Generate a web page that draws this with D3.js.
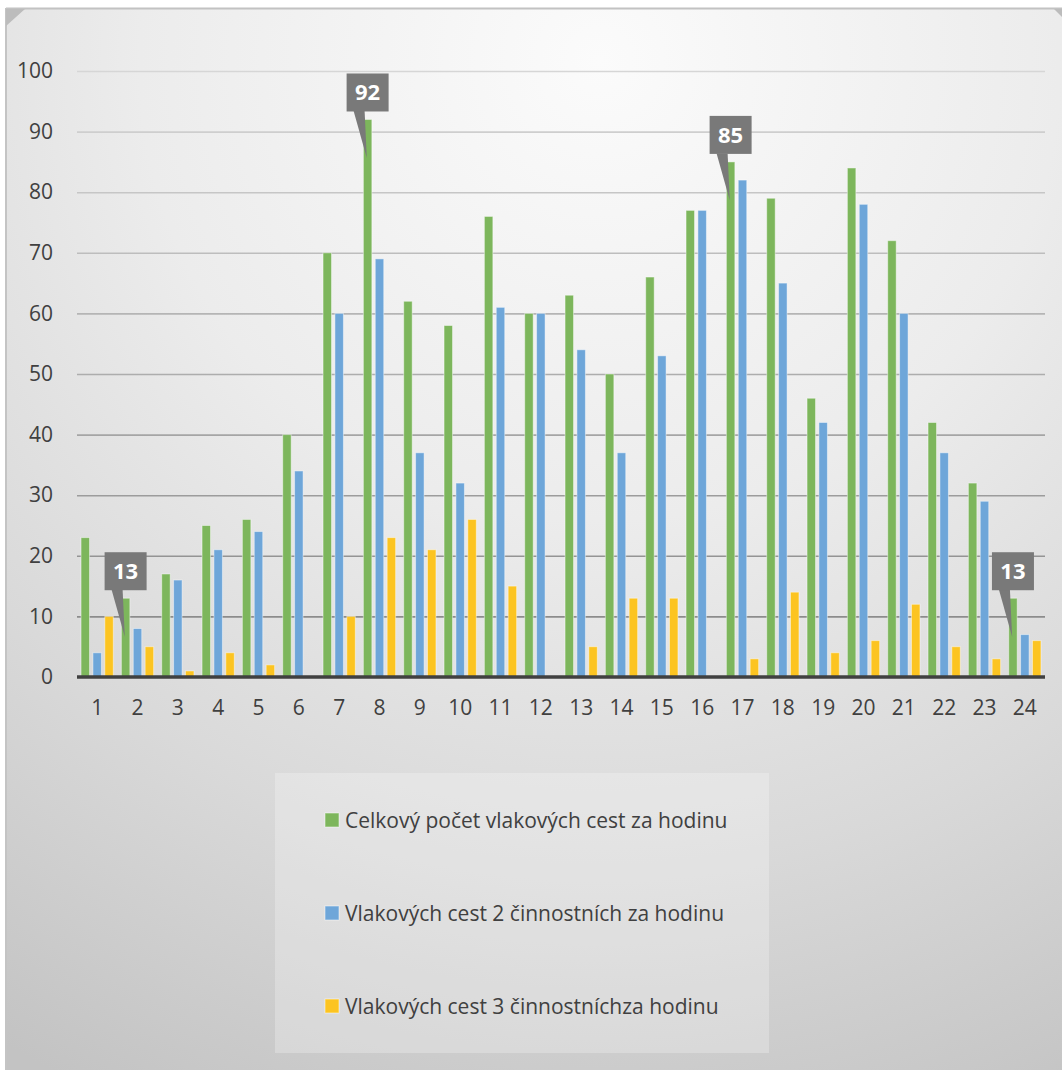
<!DOCTYPE html>
<html>
<head>
<meta charset="utf-8">
<script src="https://cdn.jsdelivr.net/npm/d3@7"></script>
<style>
  html, body { margin: 0; padding: 0; background: #ffffff; }
  svg { display: block; }
  text { font-family: "Open Sans", "Noto Sans", sans-serif; }
</style>
</head>
<body>
<svg id="chart" width="1062" height="1070"></svg>
<script>
// Hours of the day (category axis)
const hours = ["1","2","3","4","5","6","7","8","9","10","11","12",
               "13","14","15","16","17","18","19","20","21","22","23","24"];

// Train routes per hour
const totalRoutes = [23, 13, 17, 25, 26, 40, 70, 92, 62, 58, 76, 60,
                     63, 50, 66, 77, 85, 79, 46, 84, 72, 42, 32, 13];
const twoActivityRoutes = [4, 8, 16, 21, 24, 34, 60, 69, 37, 32, 61, 60,
                           54, 37, 53, 77, 82, 65, 42, 78, 60, 37, 29, 7];
const threeActivityRoutes = [10, 5, 1, 4, 2, 0, 10, 23, 21, 26, 15, 0,
                             5, 13, 13, 0, 3, 14, 4, 6, 12, 5, 3, 6];

const seriesNames = [
  "Celkový počet vlakových cest za hodinu",
  "Vlakových cest 2 činnostních za hodinu",
  "Vlakových cest 3 činnostníchza hodinu"
];
const seriesColors = ["#7db65c", "#6ea6d9", "#fcc421"];

// Hours whose total gets a callout
const calloutHours = ["2", "8", "17", "24"];

const yTicks = [0, 10, 20, 30, 40, 50, 60, 70, 80, 90, 100];

const seriesValues = [totalRoutes, twoActivityRoutes, threeActivityRoutes];

const svg = d3.select("#chart");
const defs = svg.append("defs");

// Chart area background
const bg = defs.append("radialGradient")
  .attr("id", "bgGrad")
  .attr("gradientUnits", "userSpaceOnUse")
  .attr("cx", 600).attr("cy", 60).attr("r", 1150);
[[0, "#fbfbfb"], [0.4, "#ececec"], [0.7, "#d9d9d9"], [1, "#c3c3c3"]]
  .forEach(([o, c]) => bg.append("stop").attr("offset", o).attr("stop-color", c));

svg.append("rect")
  .attr("x", 6).attr("y", 9).attr("width", 1062).attr("height", 1070)
  .attr("fill", "url(#bgGrad)");
svg.append("line").attr("x1", 6).attr("x2", 1062).attr("y1", 8.5).attr("y2", 8.5)
  .attr("stroke", "#c2c2c2").attr("stroke-width", 2);
svg.append("line").attr("x1", 6).attr("x2", 6).attr("y1", 8).attr("y2", 1070)
  .attr("stroke", "#c4c4c4").attr("stroke-width", 2);
svg.append("path").attr("d", "M6,9 L25,9 L6,26 Z").attr("fill", "#bcbcbc");
svg.append("path").attr("d", "M1054,9 L1062,9 L1062,17 Z").attr("fill", "#bcbcbc");

// Scales
const plotLeft = 77, plotRight = 1045, plotBottom = 677, plotTop = 71;
const x0 = d3.scaleBand().domain(hours).range([plotLeft, plotRight])
  .paddingInner(0.2).paddingOuter(0.1);
const x1 = d3.scaleBand().domain(d3.range(seriesValues.length))
  .range([0, x0.bandwidth()]).paddingInner(0.286);
const y = d3.scaleLinear().domain([0, 100]).range([plotBottom, plotTop]);

// Gridlines, darker toward the baseline
const gridColor = d3.scaleLinear().domain([10, 100]).range(["#8c8c8c", "#d6d6d6"]);
const yAxis = svg.append("g")
  .attr("transform", `translate(${plotLeft},0)`)
  .call(d3.axisLeft(y).tickValues(yTicks).tickSize(-(plotRight - plotLeft)).tickPadding(24));
yAxis.select(".domain").remove();
yAxis.selectAll(".tick line")
  .attr("stroke", d => d === 0 ? "none" : gridColor(d))
  .attr("stroke-width", 1.6);
yAxis.selectAll(".tick text")
  .attr("fill", "#404040")
  .style("font-size", "21px");

// Bars
const groups = svg.append("g").selectAll("g")
  .data(hours)
  .join("g")
  .attr("transform", d => `translate(${x0(d)},0)`);

groups.selectAll("rect")
  .data((h, i) => seriesValues.map((vals, s) => ({ s, v: vals[i] })))
  .join("rect")
  .filter(d => d.v > 0)
  .attr("x", d => x1(d.s))
  .attr("width", x1.bandwidth())
  .attr("y", d => y(d.v))
  .attr("height", d => y(0) - y(d.v))
  .attr("fill", d => seriesColors[d.s])
  .attr("stroke", "rgba(255,255,255,0.45)")
  .attr("stroke-width", 1);

// Category axis
const xAxis = svg.append("g")
  .attr("transform", `translate(0,${plotBottom})`)
  .call(d3.axisBottom(x0).tickSize(0).tickPadding(23));
xAxis.select(".domain").remove();
xAxis.selectAll(".tick text")
  .attr("fill", "#404040")
  .style("font-size", "21px");

svg.append("line")
  .attr("x1", plotLeft).attr("x2", plotRight)
  .attr("y1", y(0)).attr("y2", y(0))
  .attr("stroke", "#404040").attr("stroke-width", 3.5);

// Callouts on the total-routes series
const boxW = 42, boxH = 38, gap = 8, tipDrop = 38.5;
const callouts = svg.append("g").selectAll("g")
  .data(calloutHours.map(h => {
    const i = hours.indexOf(h);
    return { h, v: totalRoutes[i] };
  }))
  .join("g");

callouts.each(function(d) {
  const g = d3.select(this);
  const cx = x0(d.h) + x1(0) + x1.bandwidth() / 2;
  const top = y(d.v);
  const bBottom = top - gap;
  const bTop = bBottom - boxH;
  g.append("path")
    .attr("d", `M${cx - 14},${bBottom - 0.5} L${cx - 3},${bBottom - 0.5} L${cx - 0.8},${top + tipDrop} Z`)
    .attr("fill", "#797979");
  g.append("rect")
    .attr("x", cx - boxW / 2).attr("y", bTop)
    .attr("width", boxW).attr("height", boxH)
    .attr("fill", "#797979");
  g.append("text")
    .attr("x", cx).attr("y", bTop + boxH / 2)
    .attr("dy", "0.36em")
    .attr("text-anchor", "middle")
    .attr("fill", "#ffffff")
    .style("font-size", "22px")
    .style("font-weight", "700")
    .text(d.v);
});

// Legend
const legend = svg.append("g");
legend.append("rect")
  .attr("x", 275).attr("y", 773).attr("width", 494).attr("height", 280)
  .attr("fill", "rgba(255,255,255,0.25)");
const rowY = [820, 913, 1006];
const items = legend.selectAll("g.item")
  .data(seriesNames)
  .join("g").attr("class", "item")
  .attr("transform", (d, i) => `translate(325,${rowY[i]})`);
items.append("rect")
  .attr("x", 0).attr("y", -7).attr("width", 14).attr("height", 14)
  .attr("fill", (d, i) => seriesColors[i])
  .attr("stroke", "rgba(255,255,255,0.5)");
items.append("text")
  .attr("x", 20).attr("dy", "0.36em")
  .attr("fill", "#404040")
  .style("font-size", "21px")
  .text(d => d);
</script>
</body>
</html>
